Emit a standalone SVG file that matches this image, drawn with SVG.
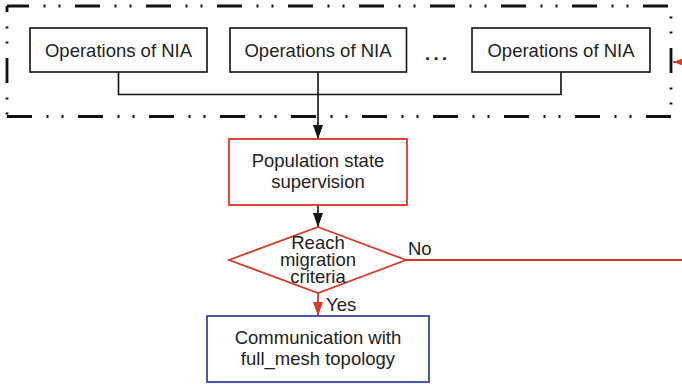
<svg xmlns="http://www.w3.org/2000/svg" width="682" height="384" viewBox="0 0 682 384">
  <defs>
    <style>
      .lbl { font-family: "Liberation Sans", Arial, Helvetica, sans-serif; font-size: 18.5px; fill: #222; text-anchor: middle; }
      .tag { font-family: "Liberation Sans", Arial, Helvetica, sans-serif; font-size: 18.5px; fill: #222; }
      .box { fill: #fff; stroke: #111; stroke-width: 1.6; }
      .red { fill: #fff; stroke: #d9382a; stroke-width: 1.8; }
      .blue { fill: #fff; stroke: #3a48a0; stroke-width: 1.8; }
      .frame { stroke: #111; stroke-width: 2.8; fill: none; stroke-dasharray: 25 14.5 2 13 2 14.5; }
      .wire { stroke: #111; stroke-width: 1.6; fill: none; }
      .wire-red { stroke: #d9382a; stroke-width: 1.8; fill: none; }
    </style>
    <marker id="ahBlack" viewBox="0 0 14 10" refX="14" refY="5" markerWidth="14" markerHeight="10" markerUnits="userSpaceOnUse" orient="auto">
      <path d="M0,0 L14,5 L0,10 Z" fill="#111"/>
    </marker>
    <marker id="ahRed" viewBox="0 0 14 10" refX="14" refY="5" markerWidth="14" markerHeight="10" markerUnits="userSpaceOnUse" orient="auto">
      <path d="M0,0 L14,5 L0,10 Z" fill="#d9382a"/>
    </marker>
  </defs>

  <!-- dash-dot-dot enclosure around the parallel operations -->
  <g id="frame">
    <line class="frame" x1="7" y1="6" x2="671" y2="6" stroke-dashoffset="3"/>
    <line class="frame" x1="7" y1="116.5" x2="671" y2="116.5" stroke-dashoffset="0"/>
    <line class="frame" x1="7" y1="6" x2="7" y2="116.5" stroke-dashoffset="19"/>
    <line class="frame" x1="671" y1="6" x2="671" y2="116.5" stroke-dashoffset="29"/>
  </g>

  <!-- connectors -->
  <g id="connectors">
    <polyline class="wire" points="118.5,72 118.5,94.5 561,94.5 561,72"/>
    <line class="wire" x1="318" y1="72" x2="318" y2="139" marker-end="url(#ahBlack)"/>
    <line class="wire" x1="318" y1="205" x2="318" y2="227" marker-end="url(#ahBlack)"/>
    <line class="wire-red" x1="318" y1="293" x2="318" y2="316" marker-end="url(#ahRed)"/>
    <line class="wire-red" x1="406" y1="260" x2="690" y2="260"/>
    <line class="wire-red" x1="700" y1="62" x2="673" y2="62" marker-end="url(#ahRed)"/>
    <text class="tag" x="408" y="254.5">No</text>
    <text class="tag" x="326" y="310.5">Yes</text>
  </g>

  <g id="op1">
    <rect class="box" x="30" y="28" width="177" height="44"/>
    <text class="lbl" x="118.5" y="56.5">Operations of NIA</text>
  </g>
  <g id="op2">
    <rect class="box" x="230" y="28" width="176.5" height="44"/>
    <text class="lbl" x="318" y="56.5">Operations of NIA</text>
  </g>
  <g id="ellipsis">
    <text class="tag" x="425" y="60" font-size="24" font-weight="bold" letter-spacing="3.3">...</text>
  </g>
  <g id="op3">
    <rect class="box" x="472" y="28" width="178" height="44"/>
    <text class="lbl" x="561" y="56.5">Operations of NIA</text>
  </g>

  <g id="supervision">
    <rect class="red" x="229" y="139" width="178" height="66"/>
    <text class="lbl" x="318" y="167">Population state</text>
    <text class="lbl" x="318" y="188">supervision</text>
  </g>

  <g id="criteria">
    <polygon class="red" points="318,227 406,260 318,293 229,260"/>
    <text class="lbl" x="318" y="249">Reach</text>
    <text class="lbl" x="318" y="266">migration</text>
    <text class="lbl" x="318" y="283">criteria</text>
  </g>

  <g id="communication">
    <rect class="blue" x="207" y="316" width="222" height="66"/>
    <text class="lbl" x="318" y="344">Communication with</text>
    <text class="lbl" x="318" y="364.5">full_mesh topology</text>
  </g>
</svg>
